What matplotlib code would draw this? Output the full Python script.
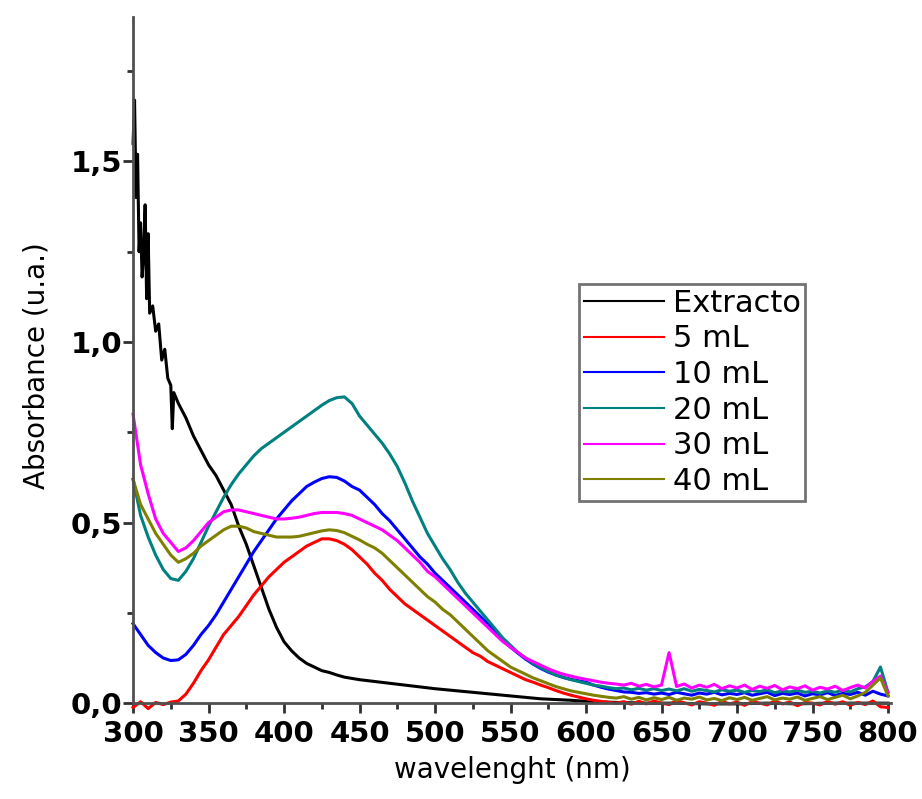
import matplotlib
matplotlib.use("Agg")
import matplotlib.pyplot as plt
from matplotlib.ticker import MultipleLocator, FixedLocator, FixedFormatter

# extract spectrum, sampled more densely near 300 nm where it is noisy
wl_ext = [300, 301, 302, 303, 304, 305, 306, 307, 308, 309, 310, 311,
          313, 315, 317, 319, 321, 323, 325, 326, 327,
          330, 335, 340, 345, 350, 355, 360, 365, 370, 375, 380, 385, 390,
          395, 400, 405, 410, 415, 420, 425, 430, 435, 440,
          450, 460, 470, 480, 490, 500, 510, 520, 530, 540, 550, 560, 570,
          580, 590, 600,
          620, 640, 660, 680, 700, 720, 740, 760, 780, 800]
abs_ext = [1.55, 1.67, 1.40, 1.52, 1.25, 1.33, 1.18, 1.24, 1.38, 1.12, 1.30, 1.08,
           1.10, 1.03, 1.05, 0.95, 0.98, 0.90, 0.88, 0.76, 0.86,
           0.83, 0.79, 0.74, 0.70, 0.66, 0.63, 0.59, 0.55, 0.49, 0.44, 0.38, 0.32, 0.26,
           0.21, 0.17, 0.145, 0.125, 0.11, 0.10, 0.09, 0.085, 0.078, 0.072,
           0.065, 0.06, 0.055, 0.05, 0.045, 0.04, 0.036, 0.032, 0.028, 0.024, 0.02, 0.016, 0.012,
           0.01, 0.008, 0.005,
           0.002, 0.0, 0.0, -0.002, -0.002, 0.0, -0.002, 0.0, 0.0, 0.0]

# nanoparticle samples, 5 nm steps from 300 to 800 nm
wl = list(range(300, 805, 5))

abs_5 = [-0.012, 0.004, -0.015, 0.002, -0.004, 0.003, 0.006, 0.025, 0.055, 0.09,
         0.12, 0.155, 0.19, 0.215, 0.24, 0.27, 0.30, 0.325, 0.35, 0.37,
         0.39, 0.405, 0.42, 0.435, 0.445, 0.455, 0.455, 0.45, 0.44, 0.425,
         0.405, 0.385, 0.36, 0.34, 0.315, 0.295, 0.275, 0.26, 0.245, 0.23,
         0.215, 0.20, 0.185, 0.17, 0.155, 0.14, 0.13, 0.115, 0.105, 0.095,
         0.085, 0.075, 0.065, 0.058, 0.05, 0.043, 0.035, 0.028, 0.022, 0.017,
         0.012, 0.008, 0.005, 0.002, 0.0, 0.004, -0.003, 0.005, -0.002, 0.006,
         0.0, -0.004, 0.007, 0.001, -0.005, 0.004, 0.0, -0.006, 0.005, -0.002,
         0.003, -0.006, 0.004, 0.0, -0.005, 0.006, -0.002, 0.003, -0.007, 0.002,
         0.0, -0.005, 0.005, -0.003, 0.004, -0.006, 0.002, -0.004, 0.006, -0.01,
         -0.012]

abs_10 = [0.22, 0.19, 0.16, 0.14, 0.125, 0.118, 0.12, 0.135, 0.16, 0.19,
          0.215, 0.245, 0.28, 0.315, 0.35, 0.385, 0.42, 0.45, 0.48, 0.51,
          0.535, 0.56, 0.58, 0.60, 0.612, 0.622, 0.627, 0.625, 0.615, 0.60,
          0.59, 0.57, 0.55, 0.525, 0.505, 0.48, 0.455, 0.43, 0.405, 0.385,
          0.36, 0.34, 0.32, 0.30, 0.28, 0.26, 0.24, 0.22, 0.20, 0.175,
          0.155, 0.138, 0.122, 0.108, 0.096, 0.086, 0.078, 0.071, 0.066, 0.062,
          0.058, 0.05, 0.044, 0.039, 0.035, 0.031, 0.03, 0.027, 0.029, 0.025,
          0.028, 0.024, 0.03, 0.026, 0.022, 0.028, 0.025, 0.03, 0.023, 0.027,
          0.024, 0.029, 0.022, 0.026, 0.03, 0.021, 0.027, 0.024, 0.028, 0.02,
          0.026, 0.023, 0.029, 0.021, 0.027, 0.024, 0.03, 0.022, 0.033, 0.025,
          0.02]

abs_20 = [0.62, 0.52, 0.46, 0.41, 0.37, 0.345, 0.34, 0.365, 0.40, 0.445,
          0.49, 0.53, 0.57, 0.605, 0.635, 0.66, 0.685, 0.705, 0.72, 0.735,
          0.75, 0.765, 0.78, 0.795, 0.81, 0.825, 0.838, 0.846, 0.848, 0.83,
          0.795, 0.77, 0.745, 0.72, 0.69, 0.655, 0.61, 0.56, 0.515, 0.47,
          0.435, 0.40, 0.37, 0.335, 0.305, 0.28, 0.255, 0.23, 0.205, 0.18,
          0.16, 0.14, 0.125, 0.11, 0.098, 0.088, 0.078, 0.071, 0.065, 0.06,
          0.055, 0.05, 0.047, 0.043, 0.04, 0.042, 0.037, 0.041, 0.036, 0.04,
          0.035, 0.039, 0.034, 0.04, 0.033, 0.038, 0.035, 0.031, 0.037, 0.033,
          0.036, 0.03, 0.035, 0.032, 0.037, 0.029, 0.034, 0.031, 0.036, 0.03,
          0.033, 0.028, 0.034, 0.03, 0.036, 0.031, 0.04, 0.045, 0.06, 0.10,
          0.03]

abs_30 = [0.80, 0.66, 0.58, 0.51, 0.47, 0.445, 0.42, 0.43, 0.45, 0.475,
          0.50, 0.515, 0.53, 0.535, 0.535, 0.53, 0.525, 0.52, 0.515, 0.51,
          0.51, 0.512, 0.515, 0.52, 0.525, 0.528, 0.528, 0.528, 0.525, 0.52,
          0.51, 0.50, 0.49, 0.48, 0.465, 0.45, 0.43, 0.41, 0.39, 0.365,
          0.35, 0.33, 0.31, 0.29, 0.27, 0.25, 0.23, 0.21, 0.19, 0.17,
          0.155, 0.14, 0.125, 0.115, 0.105, 0.095, 0.087, 0.08, 0.075, 0.07,
          0.066, 0.062, 0.058, 0.055, 0.053, 0.05, 0.055, 0.047, 0.052, 0.045,
          0.05, 0.14, 0.046, 0.053, 0.042, 0.05, 0.044, 0.052, 0.04, 0.048,
          0.042, 0.05, 0.038, 0.047, 0.041, 0.049, 0.037, 0.045, 0.04, 0.048,
          0.036, 0.044, 0.039, 0.047, 0.035, 0.043, 0.05, 0.042, 0.06, 0.075,
          0.03]

abs_40 = [0.62, 0.55, 0.51, 0.47, 0.44, 0.41, 0.39, 0.40, 0.415, 0.435,
          0.45, 0.465, 0.48, 0.49, 0.49, 0.485, 0.475, 0.47, 0.465, 0.46,
          0.46, 0.46, 0.462, 0.467, 0.472, 0.477, 0.48, 0.478, 0.472, 0.462,
          0.452, 0.44, 0.43, 0.415, 0.395, 0.375, 0.355, 0.335, 0.315, 0.295,
          0.28, 0.26, 0.245, 0.225, 0.205, 0.185, 0.165, 0.145, 0.13, 0.115,
          0.10, 0.09, 0.08, 0.07, 0.062, 0.054, 0.046, 0.04, 0.034, 0.03,
          0.026, 0.022, 0.019, 0.016, 0.014, 0.018, 0.011, 0.016, 0.009, 0.015,
          0.01, 0.016, 0.008, 0.014, 0.011, 0.017, 0.009, 0.013, 0.007, 0.015,
          0.01, 0.016, 0.008, 0.013, 0.018, 0.009, 0.014, 0.011, 0.017, 0.008,
          0.013, 0.018, 0.01, 0.016, 0.022, 0.012, 0.02, 0.03, 0.05, 0.07,
          0.02]

labels = ["Extracto", "5 mL", "10 mL", "20 mL", "30 mL", "40 mL"]
colors = ["black", "#ff0000", "#0000ff", "#008080", "#ff00ff", "#808000"]

x_ticks = [300, 350, 400, 450, 500, 550, 600, 650, 700, 750, 800]
y_ticks = [0.0, 0.5, 1.0, 1.5]
y_ticklabels = ["0,0", "0,5", "1,0", "1,5"]

plt.rcParams['font.family'] = ['DejaVu Sans']

fig = plt.figure(figsize=(9.22, 7.99), dpi=100)
ax = fig.add_axes([0.1443, 0.1064, 0.8221, 0.8723])

series = [(wl_ext, abs_ext), (wl, abs_5), (wl, abs_10),
          (wl, abs_20), (wl, abs_30), (wl, abs_40)]
for (x, y), lab, c in zip(series, labels, colors):
    ax.plot(x, y, color=c, lw=2.2, label=lab, clip_on=False)

ax.set_xlim(300, 802)
ax.set_ylim(-0.03, 1.9)

ax.spines['top'].set_visible(False)
ax.spines['right'].set_visible(False)
ax.spines['bottom'].set_position(('data', 0))
ax.spines['left'].set_bounds(0, 1.9)
for s in ('left', 'bottom'):
    ax.spines[s].set_linewidth(2)
    ax.spines[s].set_color('#505050')

ax.xaxis.set_major_locator(FixedLocator(x_ticks))
ax.xaxis.set_minor_locator(MultipleLocator(25))
ax.yaxis.set_major_locator(FixedLocator(y_ticks))
ax.yaxis.set_major_formatter(FixedFormatter(y_ticklabels))
ax.yaxis.set_minor_locator(MultipleLocator(0.25))

ax.tick_params(which='major', direction='out', length=7, width=2,
               color='#303030', labelsize=21)
ax.tick_params(which='minor', direction='out', length=4, width=2,
               color='#303030')
ax.tick_params(axis='x', which='major', pad=5)
ax.tick_params(axis='y', which='major', pad=1)
for t in ax.get_xticklabels() + ax.get_yticklabels():
    t.set_fontweight('bold')

ax.set_xlabel("wavelenght (nm)", fontsize=20, labelpad=6)
ax.set_ylabel("Absorbance (u.a.)", fontsize=20, labelpad=14)

leg = ax.legend(loc='upper left', bbox_to_anchor=(0.589, 0.617),
                borderaxespad=0, fontsize=22, frameon=True, fancybox=False,
                handlelength=2.6, handletextpad=0.3, labelspacing=0.22,
                borderpad=0.15)
leg.get_frame().set_edgecolor('#505050')
leg.get_frame().set_linewidth(2)
for line in leg.get_lines():
    line.set_linewidth(1.5)

fig.savefig("out.png", dpi=100, facecolor='white')
